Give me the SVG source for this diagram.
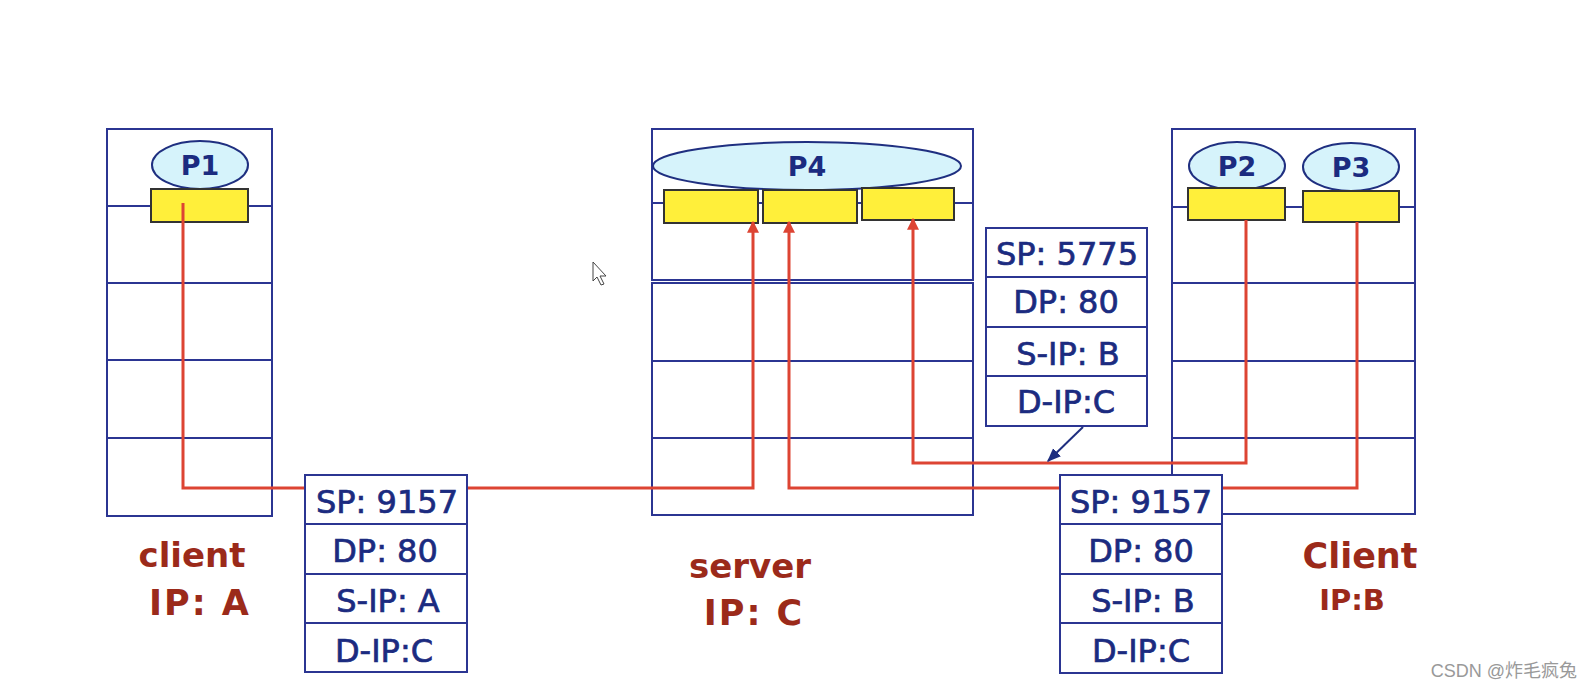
<svg xmlns="http://www.w3.org/2000/svg" width="1594" height="694" viewBox="0 0 1594 694">
<defs>
<style>
.box{fill:#fff;stroke:#2b3592;stroke-width:2}
.row{stroke:#2b3592;stroke-width:2}
.sock{fill:#ffef3a;stroke:#333;stroke-width:2}
.proc{fill:#d6f3fb;stroke:#1f2f80;stroke-width:2}
.ptxt{font-family:"DejaVu Sans",sans-serif;font-size:27px;font-weight:bold;fill:#1b2b80;text-anchor:middle}
.pkt{font-family:"DejaVu Sans",sans-serif;font-size:32px;fill:#1b2b80;stroke:#1b2b80;stroke-width:0.7;text-anchor:middle}
.lbl{font-family:"DejaVu Sans",sans-serif;font-weight:bold;fill:#9b2a1a;text-anchor:middle}
.flow{fill:none;stroke:#dd4433;stroke-width:3}
</style>
<marker id="ah" viewBox="0 0 10 10" refX="9" refY="5" markerWidth="4" markerHeight="4" orient="auto"><path d="M0,0L10,5L0,10z" fill="#dd4433"/></marker>
<marker id="bh" viewBox="0 0 10 10" refX="9" refY="5" markerWidth="7" markerHeight="7" orient="auto"><path d="M0,1L10,5L0,9z" fill="#1f2f80"/></marker>
</defs>
<rect width="1594" height="694" fill="#fff"/>

<g id="clientA">
<rect class="box" x="107" y="129" width="165" height="387"/>
<line class="row" x1="107" y1="206" x2="272" y2="206"/>
<line class="row" x1="107" y1="283" x2="272" y2="283"/>
<line class="row" x1="107" y1="360" x2="272" y2="360"/>
<line class="row" x1="107" y1="438" x2="272" y2="438"/>
<ellipse class="proc" cx="200" cy="165" rx="48" ry="24"/>
<text class="ptxt" x="200" y="175">P1</text>
<rect class="sock" x="151" y="189" width="97" height="33"/>
</g>

<g id="server">
<rect class="box" x="652" y="129" width="321" height="151"/>
<line class="row" x1="652" y1="203" x2="973" y2="203"/>
<ellipse class="proc" cx="807" cy="166" rx="154" ry="24"/>
<text class="ptxt" x="807" y="176">P4</text>
<rect class="sock" x="664" y="190" width="94" height="33"/>
<rect class="sock" x="763" y="190" width="94" height="33"/>
<rect class="sock" x="862" y="188" width="92" height="32"/>
<rect class="box" x="652" y="283" width="321" height="232"/>
<line class="row" x1="652" y1="361" x2="973" y2="361"/>
<line class="row" x1="652" y1="438" x2="973" y2="438"/>
</g>

<g id="clientB">
<rect class="box" x="1172" y="129" width="243" height="385"/>
<line class="row" x1="1172" y1="207" x2="1415" y2="207"/>
<line class="row" x1="1172" y1="283" x2="1415" y2="283"/>
<line class="row" x1="1172" y1="361" x2="1415" y2="361"/>
<line class="row" x1="1172" y1="438" x2="1415" y2="438"/>
<ellipse class="proc" cx="1237" cy="166" rx="48" ry="24"/>
<text class="ptxt" x="1237" y="176">P2</text>
<ellipse class="proc" cx="1351" cy="167" rx="48" ry="24"/>
<text class="ptxt" x="1351" y="177">P3</text>
<rect class="sock" x="1188" y="188" width="97" height="32"/>
<rect class="sock" x="1303" y="191" width="96" height="31"/>
</g>

<g id="connectors">
<path class="flow" d="M183,203V488H753V222" marker-end="url(#ah)"/>
<path class="flow" d="M1357,222V488H789V222" marker-end="url(#ah)"/>
<path class="flow" d="M1246,220V463H913V219" marker-end="url(#ah)"/>
<line x1="1083" y1="427" x2="1048" y2="461" stroke="#1f2f80" stroke-width="2" marker-end="url(#bh)"/>
</g>

<g id="pktA">
<rect class="box" x="305" y="475" width="162" height="197"/>
<line class="row" x1="305" y1="524" x2="467" y2="524"/>
<line class="row" x1="305" y1="574" x2="467" y2="574"/>
<line class="row" x1="305" y1="623" x2="467" y2="623"/>
<text class="pkt" x="387" y="513">SP: 9157</text>
<text class="pkt" x="385" y="562">DP: 80</text>
<text class="pkt" x="388" y="612">S-IP: A</text>
<text class="pkt" x="384" y="662">D-IP:C</text>
</g>

<g id="pktB1">
<rect class="box" x="986" y="228" width="161" height="198"/>
<line class="row" x1="986" y1="277" x2="1147" y2="277"/>
<line class="row" x1="986" y1="327" x2="1147" y2="327"/>
<line class="row" x1="986" y1="376" x2="1147" y2="376"/>
<text class="pkt" x="1067" y="265">SP: 5775</text>
<text class="pkt" x="1066" y="313">DP: 80</text>
<text class="pkt" x="1068" y="365">S-IP: B</text>
<text class="pkt" x="1066" y="413">D-IP:C</text>
</g>

<g id="pktB2">
<rect class="box" x="1060" y="475" width="162" height="198"/>
<line class="row" x1="1060" y1="524" x2="1222" y2="524"/>
<line class="row" x1="1060" y1="574" x2="1222" y2="574"/>
<line class="row" x1="1060" y1="623" x2="1222" y2="623"/>
<text class="pkt" x="1141" y="513">SP: 9157</text>
<text class="pkt" x="1141" y="562">DP: 80</text>
<text class="pkt" x="1143" y="612">S-IP: B</text>
<text class="pkt" x="1141" y="662">D-IP:C</text>
</g>

<g id="labels">
<text class="lbl" x="192" y="567" font-size="34">client</text>
<text class="lbl" x="200" y="615" font-size="35" letter-spacing="2">IP: A</text>
<text class="lbl" x="750" y="578" font-size="34">server</text>
<text class="lbl" x="754" y="625" font-size="35" letter-spacing="2">IP: C</text>
<text class="lbl" x="1360" y="568" font-size="35">Client</text>
<text class="lbl" x="1352" y="610" font-size="29">IP:B</text>
</g>

<polygon points="593,262 593,281 597,277 601,285 604,284 600,276 606,276" fill="#fff" stroke="#444" stroke-width="1"/>
<text x="1577" y="677" font-family="'Liberation Sans','Noto Sans CJK SC',sans-serif" font-size="18" fill="#999" text-anchor="end">CSDN @炸毛疯兔</text>
</svg>
